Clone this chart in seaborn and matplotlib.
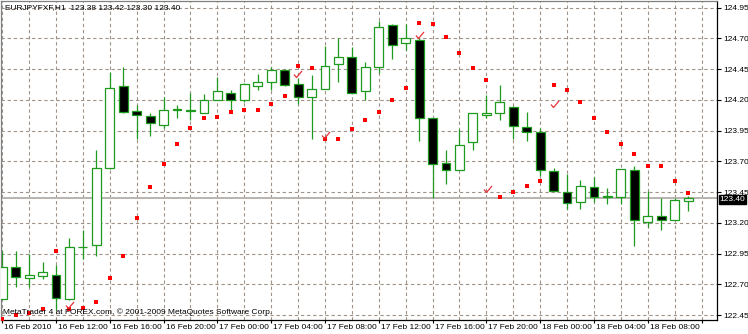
import numpy as np
import pandas as pd
import matplotlib
matplotlib.use("Agg")
import matplotlib.pyplot as plt
import matplotlib.transforms as mtransforms
from matplotlib.path import Path
import seaborn as sns

# ---------------- data ----------------
header = "EURJPYFXF,H1  123.38 123.42 123.30 123.40"
watermark = "MetaTrader 4 at FOREX.com, \u00a9 2001-2009 MetaQuotes Software Corp."

opens = [122.58, 122.84, 122.75, 122.77, 122.78, 122.58, 123.00, 123.02, 123.65, 124.31,
         124.11, 124.07, 124.00, 124.13, 124.11, 124.09, 124.20, 124.26, 124.20, 124.31,
         124.35, 124.44, 124.33, 124.22, 124.29, 124.49, 124.55, 124.27, 124.47, 124.81,
         124.66, 124.69, 124.05, 123.69, 123.63, 123.86, 124.08, 124.09, 124.14, 123.98,
         123.94, 123.62, 123.45, 123.37, 123.49, 123.41, 123.41, 123.63, 123.21, 123.26,
         123.22, 123.38]
highs = [122.97, 122.97, 122.95, 122.88, 122.86, 123.08, 123.14, 123.79, 124.43, 124.47,
         124.16, 124.09, 124.22, 124.16, 124.26, 124.25, 124.39, 124.28, 124.34, 124.41,
         124.47, 124.45, 124.38, 124.40, 124.64, 124.70, 124.63, 124.51, 124.84, 124.82,
         124.82, 124.70, 124.05, 123.79, 123.96, 124.09, 124.24, 124.32, 124.15, 124.10,
         123.97, 123.65, 123.60, 123.55, 123.57, 123.48, 123.64, 123.66, 123.46, 123.40,
         123.40, 123.42]
lows = [122.58, 122.68, 122.68, 122.74, 122.49, 122.57, 122.91, 122.93, 123.64, 124.09,
        123.88, 123.91, 123.97, 124.05, 124.04, 124.09, 124.20, 124.10, 124.18, 124.28,
        124.28, 124.31, 124.17, 123.88, 124.29, 124.35, 124.26, 124.20, 124.42, 124.53,
        124.61, 123.87, 123.40, 123.52, 123.63, 123.79, 124.05, 124.04, 123.88, 123.87,
        123.58, 123.46, 123.31, 123.31, 123.37, 123.35, 123.35, 123.01, 123.17, 123.14,
        123.22, 123.30]
closes = [122.84, 122.76, 122.78, 122.80, 122.59, 123.00, 123.00, 123.65, 124.30, 124.10,
          124.08, 124.01, 124.12, 124.12, 124.12, 124.20, 124.27, 124.20, 124.33, 124.35,
          124.44, 124.32, 124.22, 124.29, 124.48, 124.55, 124.26, 124.47, 124.79, 124.65,
          124.70, 124.05, 123.68, 123.63, 123.83, 124.09, 124.09, 124.18, 123.99, 123.94,
          123.63, 123.46, 123.36, 123.50, 123.41, 123.42, 123.64, 123.22, 123.26, 123.22,
          123.39, 123.40]
sar = [122.42, 122.45, 122.47, 122.50, 122.97, 122.50, 122.51, 122.56, 122.75, 122.93,
       123.24, 123.49, 123.68, 123.84, 123.97, 124.05, 124.06, 124.10, 124.12, 124.12,
       124.17, 124.23, 124.48, 124.46, 123.88, 123.88, 123.96, 124.04, 124.10, 124.20,
       124.30, 124.83, 124.82, 124.71, 124.58, 124.46, 124.36, 123.41, 123.45, 123.50,
       123.54, 124.32, 124.28, 124.18, 124.05, 123.94, 123.84, 123.76, 123.66, 123.66,
       123.54, 123.44]
check_bars = [4.92, 21.85, 23.9, 30.9, 35.96, 40.93]
check_prices = [122.51, 124.39, 123.89, 124.70, 123.455, 124.14]

label_bars = [0, 4, 8, 12, 16, 20, 24, 28, 32, 36, 40, 44, 48, 52]
time_labels = ["16 Feb 2010", "16 Feb 12:00", "16 Feb 16:00", "16 Feb 20:00",
               "17 Feb 00:00", "17 Feb 04:00", "17 Feb 08:00", "17 Feb 12:00",
               "17 Feb 16:00", "17 Feb 20:00", "18 Feb 00:00", "18 Feb 04:00",
               "18 Feb 08:00", ""]
price_ticks = [122.45, 122.70, 122.95, 123.20, 123.45, 123.70, 123.95, 124.20, 124.45, 124.70, 124.95]
last_price = 123.40

# ---------------- style ----------------
sns.set_style("white")
plt.rcParams['font.family'] = ['Liberation Sans', 'DejaVu Sans']
FS = 6.0
GREEN = '#1e9a1e'
GRID = '#a09288'

df = pd.DataFrame({"bar": np.arange(len(opens)), "open": opens, "high": highs,
                   "low": lows, "close": closes, "sar": sar})
up = df["close"] >= df["open"]

fig = plt.figure(figsize=(7.48, 3.34), dpi=100)
ax = fig.add_axes([1 / 748, 14 / 334, 716 / 748, 319 / 334])
ax.set_facecolor('white')

ax.set_xlim(-0.09, 53.15)
ax.set_ylim(122.41, 125.005)

# grid
ax.set_xticks(label_bars)
ax.set_xticks([b + 2 for b in label_bars[:-1]], minor=True)
ax.set_yticks(price_ticks)
ax.grid(True, which='both', axis='x', color=GRID, lw=0.8, ls=(0, (3, 2.5)), zorder=0)
ax.grid(True, which='major', axis='y', color=GRID, lw=0.8, ls=(0, (3, 2.5)), zorder=0)

# current price line
ax.axhline(last_price, color='#b8b4b0', lw=1.4, zorder=1)

# candles
ax.vlines(df["bar"], df["low"], df["high"], color=GREEN, lw=0.9, zorder=2)
body_bottom = np.minimum(df["open"], df["close"])
body_h = np.abs(df["close"] - df["open"])
ax.bar(df["bar"], body_h, bottom=body_bottom, width=0.66,
       color=np.where(up, 'white', 'black'), edgecolor=GREEN, linewidth=0.9, zorder=3)

# parabolic SAR
sns.scatterplot(x=df["bar"], y=df["sar"], ax=ax, color='#ff0000', marker='s',
                s=6.5, linewidth=0, zorder=4, legend=False)

# check marks
check_path = Path([(-2.5, 3.0), (0.0, 0.0), (5.5, 6.5)],
                  [Path.MOVETO, Path.LINETO, Path.LINETO])
ax.plot(check_bars, check_prices, ls='none', marker=check_path, markersize=9.4,
        mfc='none', mec='#e8303a', mew=0.9, zorder=5)

# axes decoration
ax.set_xlabel('')
ax.set_ylabel('')
ax.yaxis.tick_right()
ax.set_yticklabels([f"{v:.2f}" for v in price_ticks], fontsize=FS)
ax.set_xticklabels(time_labels, fontsize=FS)
ax.tick_params(axis='y', which='major', direction='out', length=3, width=0.8,
               pad=1.5, color='black', labelcolor='black', right=True, left=False)
ax.tick_params(axis='x', which='major', direction='out', length=2.5, width=0.8,
               pad=0.6, color='black', labelcolor='black', bottom=True)
ax.tick_params(axis='x', which='minor', length=0)
shift = mtransforms.ScaledTranslation(2 / 100, 0, fig.dpi_scale_trans)
for lab in ax.get_xticklabels():
    lab.set_horizontalalignment('left')
    lab.set_transform(lab.get_transform() + shift)

for side in ['left', 'top', 'right', 'bottom']:
    ax.spines[side].set_visible(True)
    ax.spines[side].set_linewidth(0.9)
ax.spines['left'].set_color('#808080')
ax.spines['top'].set_color('#808080')
ax.spines['right'].set_color('black')
ax.spines['bottom'].set_color('black')

# texts
ax.text(0.005, 0.978, header, transform=ax.transAxes, fontsize=FS, va='center',
        ha='left', color='black', zorder=6)
ax.text(0.003, 0.026, watermark, transform=ax.transAxes, fontsize=FS, va='center',
        ha='left', color='black', zorder=6)
trans = mtransforms.blended_transform_factory(ax.transAxes, ax.transData)
ax.text(1.0 + 2.5 / 716, last_price - 0.01, "123.40", transform=trans, fontsize=FS,
        color='white', va='center', ha='left', zorder=7,
        bbox=dict(boxstyle='square,pad=0.12', fc='black', ec='black'))

fig.savefig("out.png", dpi=100)
